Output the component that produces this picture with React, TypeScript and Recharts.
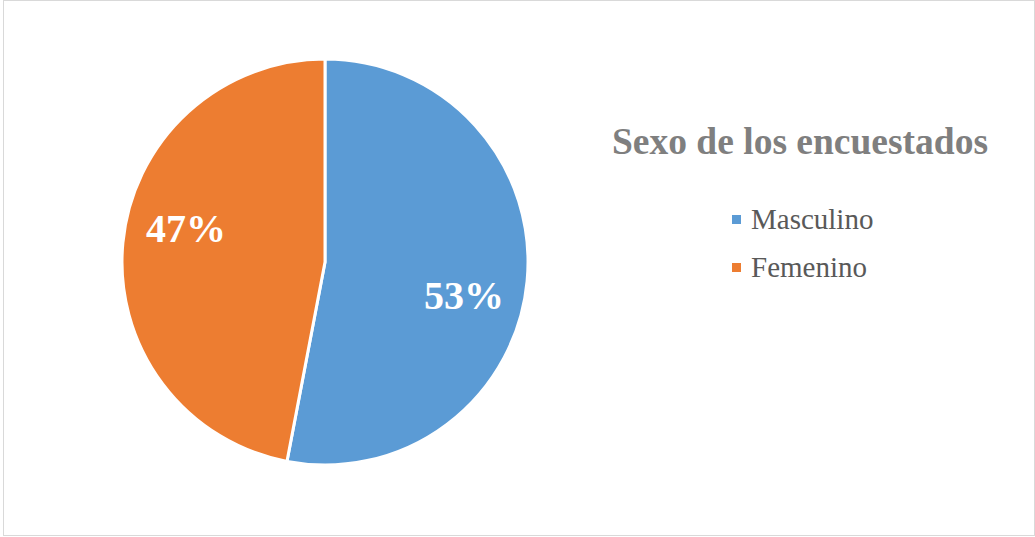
import React from 'react';
import { PieChart, Pie, Cell, Legend } from 'recharts';

const categories = ['Masculino', 'Femenino'];
const values = [53, 47];
const colors = ['#5B9BD5', '#ED7D31'];

const chartData = categories.map((name, i) => ({ name, value: values[i] }));

const RADIAN = Math.PI / 180;

const renderLabel = ({ cx, cy, midAngle, percent }: any) => {
  // Excel places them a bit clockwise of the mid angle
  const angle = (midAngle - 8) * RADIAN;
  const r = 143;
  const x = cx + r * Math.cos(angle);
  const y = cy - r * Math.sin(angle);
  return (
    <text
      x={x}
      y={y}
      fill="#ffffff"
      fontSize={40}
      fontWeight="bold"
      fontFamily="'Liberation Serif', 'Times New Roman', serif"
      textAnchor="middle"
      dominantBaseline="central"
    >
      {`${Math.round(percent * 100)}%`}
    </text>
  );
};

const LegendBox = () => (
  <div style={{ fontFamily: "'Liberation Serif', 'Times New Roman', serif", width: 420 }}>
    <div
      style={{
        textAlign: 'center',
        fontSize: 37.5,
        fontWeight: 'bold',
        color: '#7f7f7f',
        lineHeight: '40px',
      }}
    >
      Sexo de los encuestados
    </div>
    <div style={{ marginTop: 33, marginLeft: 142 }}>
      {categories.map((c, i) => (
        <div
          key={c}
          style={{ display: 'flex', alignItems: 'center', height: 48, fontSize: 29, color: '#595959' }}
        >
          <span style={{ width: 9, height: 9, background: colors[i], marginRight: 10, display: 'inline-block' }} />
          <span>{c}</span>
        </div>
      ))}
    </div>
  </div>
);

export default function App() {
  return (
    <div style={{ position: 'absolute', left: 0, top: 0, width: 1035, height: 537, background: '#fff' }}>
      <div
        style={{
          position: 'absolute',
          left: 3,
          top: 0,
          width: 1030,
          height: 534,
          border: '1px solid #d9d9d9',
        }}
      />
      <PieChart width={1035} height={537}>
        <Pie
          data={chartData}
          dataKey="value"
          nameKey="name"
          cx={320}
          cy={257}
          outerRadius={203}
          startAngle={90}
          endAngle={-270}
          stroke="#ffffff"
          strokeWidth={3}
          label={renderLabel}
          labelLine={false}
          isAnimationActive={false}
        >
          {chartData.map((entry, index) => (
            <Cell key={`cell-${index}`} fill={colors[index]} />
          ))}
        </Pie>
        <Legend
          content={<LegendBox />}
          wrapperStyle={{ position: 'absolute', left: 590, top: 122, width: 420 }}
        />
      </PieChart>
    </div>
  );
}
